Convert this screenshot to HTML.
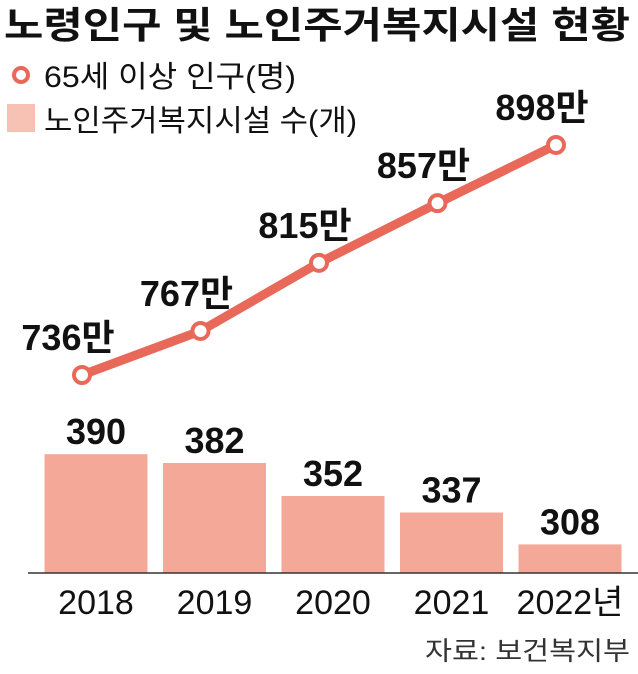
<!DOCTYPE html>
<html><head><meta charset="utf-8"><style>
body{margin:0;background:#fff;width:638px;height:669px;overflow:hidden;font-family:"Liberation Sans","Noto Sans CJK KR",sans-serif}
</style></head><body>
<svg width="638" height="669" style="font-family:'Liberation Sans','Noto Sans CJK KR',sans-serif">
<text x="4" y="38" font-size="37" font-weight="bold" fill="#111" textLength="626" lengthAdjust="spacingAndGlyphs">노령인구 및 노인주거복지시설 현황</text>
<g>
<circle cx="21" cy="75" r="7" fill="#fff" stroke="#e8695a" stroke-width="4"/>
<text x="44" y="87" font-size="30" fill="#111" textLength="252" lengthAdjust="spacingAndGlyphs">65세 이상 인구(명)</text>
<rect x="7" y="104" width="28" height="28" fill="#f7c1b3"/>
<text x="44" y="131" font-size="30" fill="#111" textLength="313" lengthAdjust="spacingAndGlyphs">노인주거복지시설 수(개)</text>
</g>
<g id="bars"></g><g id="line"></g><g id="xlabels"></g>
<line x1="28" y1="573" x2="638" y2="573" stroke="#333" stroke-width="1.5"/>
<text x="630" y="660" font-size="26" fill="#333" text-anchor="end" textLength="205" lengthAdjust="spacingAndGlyphs">자료: 보건복지부</text>
</svg>
<script>
const categories=["2018","2019","2020","2021","2022년"];
const facilities=[390,382,352,337,308];
const population=[736,767,815,857,898];
const ns="http://www.w3.org/2000/svg";
function xc(i){return 96+i*118.5;}
function yb(v){return 573-(v-282)*1.1;}
function yl(v){return 375-(v-736)*1.42;}
function mk(t,a,p){const e=document.createElementNS(ns,t);for(const k in a)e.setAttribute(k,a[k]);p.appendChild(e);return e;}
const bars=document.getElementById('bars'),line=document.getElementById('line'),xl=document.getElementById('xlabels');
facilities.forEach((v,i)=>{
 const r=mk('rect',{x:xc(i)-51.5,y:yb(v),width:103,height:573-yb(v),fill:'#f4a898'},bars);
 
 
 const t=mk('text',{x:xc(i),y:yb(v)-10,'font-size':36,'font-weight':'bold','text-anchor':'middle',fill:'#111'},bars);
 t.textContent=v;
 
 
 const c=mk('text',{x:xc(i),y:614,'font-size':34,'text-anchor':'middle',fill:'#111'},xl);
 c.textContent=categories[i];
 
 
});
const pts=population.map((v,i)=>xc(i)-14+','+yl(v)).join(' ');
const pl=mk('polyline',{points:pts,fill:'none',stroke:'#e8695a','stroke-width':9,'stroke-linejoin':'round'},line);


population.forEach((v,i)=>{
 const c=mk('circle',{cx:xc(i)-14,cy:yl(v),r:8,fill:'#fff',stroke:'#e8695a','stroke-width':4},line);
 
 
 const t=mk('text',{x:xc(i)-28,y:yl(v)-25,'font-size':36,'font-weight':'bold','text-anchor':'middle',fill:'#111'},line);
 t.textContent=v+'만';
 
 
});
</script>
</body></html>
